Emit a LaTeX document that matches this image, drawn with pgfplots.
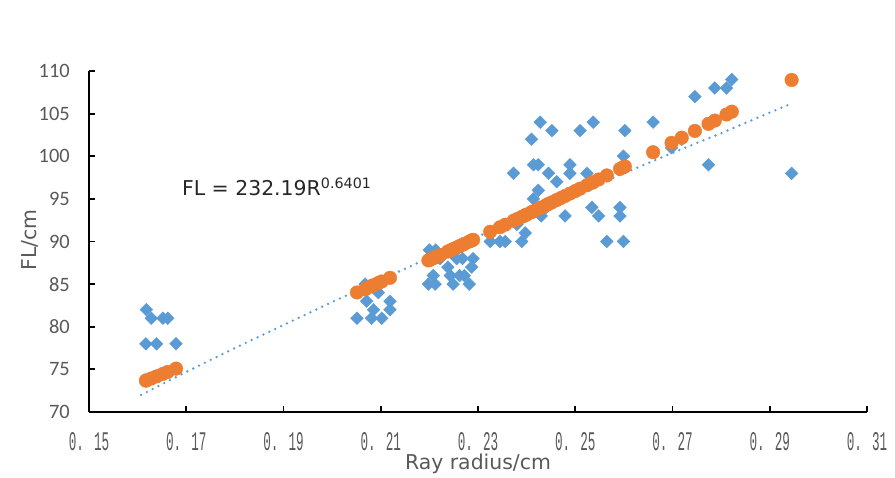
\documentclass[border=0pt]{standalone}
\usepackage{pgfplots}
\pgfplotsset{compat=1.18}
\usepackage{graphicx}
\usepackage{fontspec}
\setmainfont{Carlito}
\newfontfamily\labfont{DejaVu Sans}
\newfontfamily\monofont{Liberation Mono}
\usetikzlibrary{calc}
\definecolor{xlblue}{RGB}{91,155,213}
\definecolor{xlorange}{RGB}{237,125,49}
\definecolor{tickgray}{RGB}{89,89,89}
\newcommand{\xt}[1]{\scalebox{0.47}[1]{#1}}

\begin{document}
\begin{tikzpicture}
\begin{axis}[
    scale only axis, width=778bp, height=341bp,
    xmin=0.15, xmax=0.31, ymin=70, ymax=110,
    axis x line*=bottom, axis y line*=left,
    axis line style={line width=1.8bp, black, -},
    tick align=inside, major tick length=6bp,
    tick style={line width=1.8bp, black},
    xtick={0.15,0.17,0.19,0.21,0.23,0.25,0.27,0.29,0.31},
    xticklabels={\xt{0. 15},\xt{0. 17},\xt{0. 19},\xt{0. 21},\xt{0. 23},\xt{0. 25},\xt{0. 27},\xt{0. 29},\xt{0. 31}},
    xticklabel style={font=\monofont\fontsize{27}{27}\selectfont, text=tickgray, anchor=center, yshift=-30bp},
    ytick={70,75,...,110},
    /pgf/number format/assume math mode=true,
    yticklabel style={font=\fontsize{20.5}{20.5}\selectfont, text=tickgray, anchor=east, inner sep=0pt, xshift=-19bp},
    xlabel={Ray radius/cm},
    ylabel={FL/cm},
    x label style={font=\labfont\fontsize{20.5}{20.5}\selectfont, text=tickgray, at={(axis description cs:0.5,-0.152)}, anchor=center},
    y label style={font=\labfont\fontsize{20.5}{20.5}\selectfont, text=tickgray, at={(axis description cs:-0.076,0.504)}, anchor=center, rotate=0},
]
% observed values
\addplot[only marks, mark=square*, mark size=4.5bp, mark options={rotate=45, fill=xlblue, draw=xlblue}]
coordinates {
(0.1618,82) (0.1628,81) (0.1652,81) (0.1662,81) (0.1617,78) (0.1639,78) (0.1679,78)
(0.2051,81) (0.2068,85) (0.2071,83) (0.2081,81) (0.2085,82) (0.2095,84) (0.2102,81) (0.2119,83) (0.2119,82)
(0.2200,89) (0.2213,89) (0.2203,88) (0.2208,86) (0.2198,85) (0.2212,85) (0.2222,88) (0.2238,87)
(0.2243,86) (0.2249,85) (0.2256,88) (0.2262,86) (0.2268,88) (0.2272,86) (0.2282,85) (0.2287,87) (0.2290,88)
(0.2325,90) (0.2345,90) (0.2356,90) (0.2373,98) (0.2380,92) (0.2390,90) (0.2397,91) (0.2400,93)
(0.2410,102) (0.2414,99) (0.2424,99) (0.2414,95) (0.2424,96) (0.2428,104) (0.2430,93) (0.2440,94)
(0.2445,98) (0.2452,103) (0.2462,97) (0.2470,95) (0.2479,93) (0.2489,99) (0.2489,98) (0.2500,96)
(0.2510,103) (0.2524,98) (0.2534,94) (0.2537,104) (0.2548,93) (0.2565,90) (0.2592,94) (0.2592,93)
(0.2599,90) (0.2599,100) (0.2602,103) (0.2660,104) (0.2698,101) (0.2719,102) (0.2746,107) (0.2774,99)
(0.2787,108) (0.2811,108) (0.2822,109) (0.2945,98)
};
% fitted values
\addplot[only marks, mark=*, mark size=6.8bp, mark options={fill=xlorange, draw=xlorange}]
coordinates {
(0.1618,73.71) (0.1628,73.93) (0.1652,74.47) (0.1662,74.70) (0.1617,73.68) (0.1639,74.18) (0.1679,75.09)
(0.2051,84.02) (0.2068,84.39) (0.2071,84.52) (0.2081,84.77) (0.2085,84.87) (0.2095,85.13) (0.2102,85.31) (0.2119,85.74)
(0.2200,87.83) (0.2213,88.17) (0.2203,87.91) (0.2208,88.04) (0.2198,87.78) (0.2212,88.14) (0.2222,88.40) (0.2238,88.82)
(0.2243,88.96) (0.2249,89.11) (0.2256,89.30) (0.2262,89.46) (0.2268,89.62) (0.2272,89.72) (0.2282,89.99) (0.2287,90.12) (0.2290,90.20)
(0.2325,91.14) (0.2345,91.67) (0.2356,91.97) (0.2373,92.43) (0.2380,92.62) (0.2390,92.89) (0.2397,93.08) (0.2400,93.16)
(0.2410,93.44) (0.2414,93.55) (0.2424,93.82) (0.2428,93.93) (0.2430,93.99) (0.2440,94.26)
(0.2445,94.40) (0.2452,94.59) (0.2462,94.87) (0.2470,95.09) (0.2479,95.34) (0.2489,95.62) (0.2500,95.92)
(0.2510,96.20) (0.2524,96.60) (0.2534,96.88) (0.2537,96.96) (0.2548,97.27) (0.2565,97.75) (0.2592,98.52)
(0.2599,98.72) (0.2602,98.80) (0.2660,100.47) (0.2698,101.57) (0.2719,102.18) (0.2746,102.97) (0.2774,103.80)
(0.2787,104.18) (0.2811,104.90) (0.2822,105.23) (0.2945,108.95)
};
% power trend line
\addplot[xlblue, line width=2.6bp, line cap=round, dash pattern=on 0pt off 6.5bp]
coordinates {
(0.1607,72.0) (0.17,74.7) (0.18,77.5) (0.19,80.2) (0.20,82.9) (0.21,85.5) (0.22,88.1)
(0.23,90.6) (0.24,93.1) (0.25,95.6) (0.26,98.0) (0.27,100.4) (0.28,102.7) (0.2945,106.2)
};
\node[anchor=west, inner sep=0pt, font=\labfont\fontsize{20.5}{20.5}\selectfont, text=black!85]
  at (axis cs:0.1691,96.4) {FL = 232.19R\textsuperscript{0.6401}};
\coordinate (bl) at (rel axis cs:0,0);
\coordinate (tr) at (rel axis cs:1,1);
\end{axis}
\pgfresetboundingbox
\path ($(bl)+(-89bp,-66bp)$) rectangle ($(tr)+(28bp,71bp)$);
\end{tikzpicture}
\end{document}
